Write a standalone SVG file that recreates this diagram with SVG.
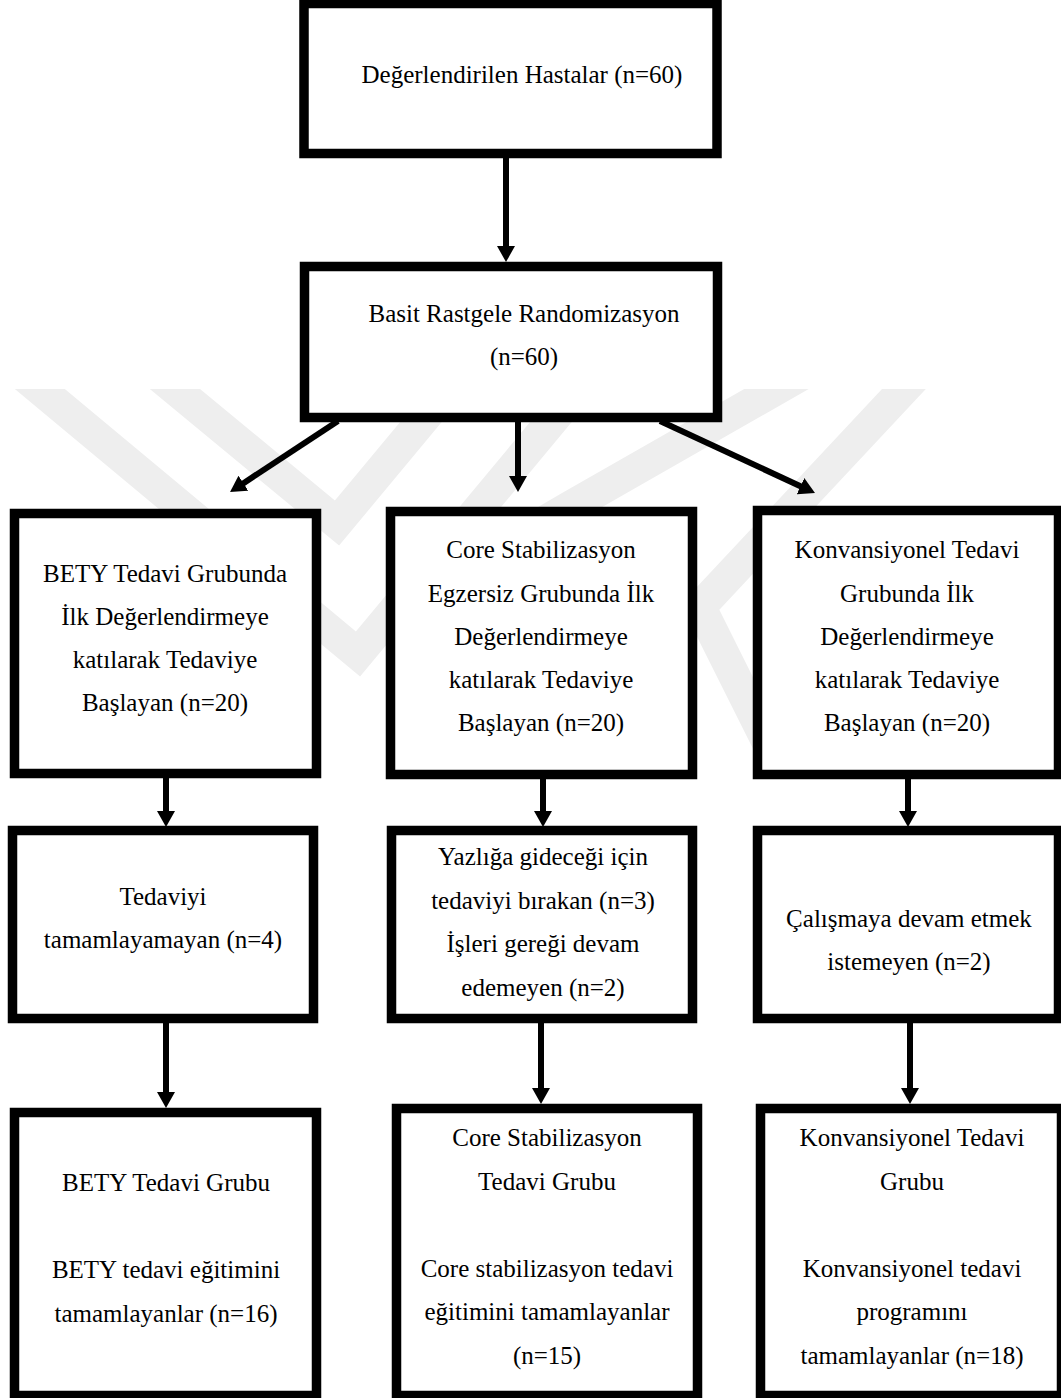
<svg xmlns="http://www.w3.org/2000/svg" width="1061" height="1398" viewBox="0 0 1061 1398">
<style>
.nbox{fill:#ffffff;stroke:#000000;stroke-width:9.5}
.ntext{fill:#000000;text-anchor:middle;font-family:'Liberation Serif','Times New Roman',serif;font-size:25px}
.conn{stroke:#000000;stroke-width:6;fill:none;marker-end:url(#ah)}
.wmk{fill:none;stroke:#eeeeee;stroke-width:32;stroke-linejoin:miter;stroke-miterlimit:10}
</style>
<defs>
<marker id="ah" viewBox="0 0 16 18" markerWidth="16" markerHeight="18" markerUnits="userSpaceOnUse" refX="3" refY="9" orient="auto">
<path d="M0,0 L16,9 L0,18 z" fill="#000000"/>
</marker>
<clipPath id="wmclip"><rect x="0" y="389" width="1061" height="382"/></clipPath>
</defs>
<rect x="0" y="0" width="1061" height="1398" fill="#ffffff"/>
<g id="watermark" clip-path="url(#wmclip)">
<polyline class="wmk" points="23,375 358,654 590,375"/>
<polyline class="wmk" points="158,375 337,523 460,375"/>
<polyline class="wmk" points="801,375 570,507 520,536"/>
<polyline class="wmk" points="917,375 700,607 790,787"/>
</g>
<g id="connectors">
<line class="conn" x1="506" y1="158" x2="506" y2="249"/>
<line class="conn" x1="338" y1="421" x2="240.9" y2="484.9"/>
<line class="conn" x1="518" y1="422" x2="518" y2="479"/>
<line class="conn" x1="660" y1="421" x2="803.2" y2="487.5"/>
<line class="conn" x1="166" y1="778" x2="166" y2="814"/>
<line class="conn" x1="543" y1="779" x2="543" y2="814"/>
<line class="conn" x1="908" y1="779" x2="908" y2="814"/>
<line class="conn" x1="166" y1="1023" x2="166" y2="1095"/>
<line class="conn" x1="541" y1="1023" x2="541" y2="1091"/>
<line class="conn" x1="910" y1="1023" x2="910" y2="1091"/>
</g>
<g id="n1">
<rect class="nbox" x="304" y="3.5" width="413" height="150"/>
<text class="ntext" x="522" y="83">Değerlendirilen Hastalar (n=60)</text>
</g>
<g id="n2">
<rect class="nbox" x="304.5" y="266.5" width="413" height="151"/>
<text class="ntext" x="524" y="322">Basit Rastgele Randomizasyon</text>
<text class="ntext" x="524" y="365">(n=60)</text>
</g>
<g id="n3a">
<rect class="nbox" x="14.5" y="513.5" width="302" height="260"/>
<text class="ntext" x="165" y="582">BETY Tedavi Grubunda</text>
<text class="ntext" x="165" y="625">İlk Değerlendirmeye</text>
<text class="ntext" x="165" y="668">katılarak Tedaviye</text>
<text class="ntext" x="165" y="711">Başlayan (n=20)</text>
</g>
<g id="n3b">
<rect class="nbox" x="390.5" y="511.5" width="302" height="263"/>
<text class="ntext" x="541" y="558">Core Stabilizasyon</text>
<text class="ntext" x="541" y="602">Egzersiz Grubunda İlk</text>
<text class="ntext" x="541" y="645">Değerlendirmeye</text>
<text class="ntext" x="541" y="688">katılarak Tedaviye</text>
<text class="ntext" x="541" y="731">Başlayan (n=20)</text>
</g>
<g id="n3c">
<rect class="nbox" x="757.5" y="510.5" width="301" height="264"/>
<text class="ntext" x="907" y="558">Konvansiyonel Tedavi</text>
<text class="ntext" x="907" y="602">Grubunda İlk</text>
<text class="ntext" x="907" y="645">Değerlendirmeye</text>
<text class="ntext" x="907" y="688">katılarak Tedaviye</text>
<text class="ntext" x="907" y="731">Başlayan (n=20)</text>
</g>
<g id="n4a">
<rect class="nbox" x="12.5" y="830.5" width="301" height="188"/>
<text class="ntext" x="163" y="905">Tedaviyi</text>
<text class="ntext" x="163" y="948">tamamlayamayan (n=4)</text>
</g>
<g id="n4b">
<rect class="nbox" x="391.5" y="830.5" width="301" height="188"/>
<text class="ntext" x="543" y="865">Yazlığa gideceği için</text>
<text class="ntext" x="543" y="909">tedaviyi bırakan (n=3)</text>
<text class="ntext" x="543" y="952">İşleri gereği devam</text>
<text class="ntext" x="543" y="996">edemeyen (n=2)</text>
</g>
<g id="n4c">
<rect class="nbox" x="757.5" y="830.5" width="301" height="188"/>
<text class="ntext" x="909" y="927">Çalışmaya devam etmek</text>
<text class="ntext" x="909" y="970">istemeyen (n=2)</text>
</g>
<g id="n5a">
<rect class="nbox" x="14.5" y="1112.5" width="302" height="283"/>
<text class="ntext" x="166" y="1191">BETY Tedavi Grubu</text>
<text class="ntext" x="166" y="1278">BETY tedavi eğitimini</text>
<text class="ntext" x="166" y="1321.5">tamamlayanlar (n=16)</text>
</g>
<g id="n5b">
<rect class="nbox" x="396.5" y="1108.5" width="301" height="287"/>
<text class="ntext" x="547" y="1146">Core Stabilizasyon</text>
<text class="ntext" x="547" y="1189.5">Tedavi Grubu</text>
<text class="ntext" x="547" y="1276.5">Core stabilizasyon tedavi</text>
<text class="ntext" x="547" y="1320">eğitimini tamamlayanlar</text>
<text class="ntext" x="547" y="1363.5">(n=15)</text>
</g>
<g id="n5c">
<rect class="nbox" x="760.5" y="1108.5" width="301" height="287"/>
<text class="ntext" x="912" y="1146">Konvansiyonel Tedavi</text>
<text class="ntext" x="912" y="1189.5">Grubu</text>
<text class="ntext" x="912" y="1276.5">Konvansiyonel tedavi</text>
<text class="ntext" x="912" y="1320">programını</text>
<text class="ntext" x="912" y="1363.5">tamamlayanlar (n=18)</text>
</g>
</svg>
